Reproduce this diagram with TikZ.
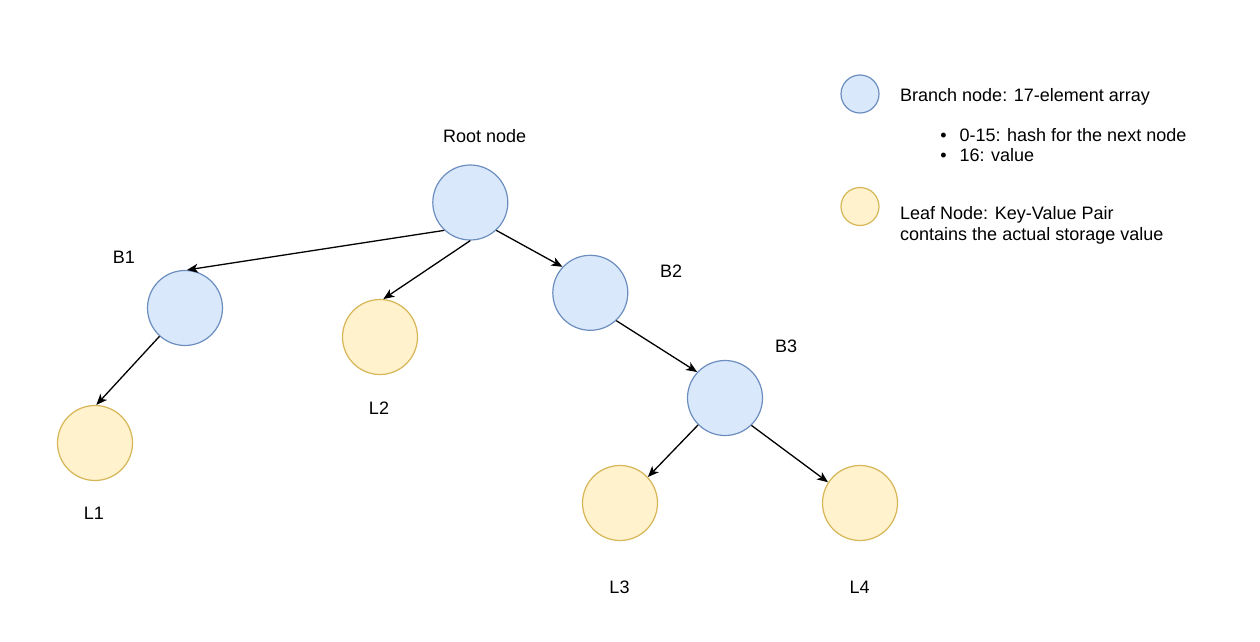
\documentclass[tikz,border=0pt]{standalone}
\usepackage{fontspec}
\setmainfont{Liberation Sans}
\usetikzlibrary{arrows.meta}
\definecolor{bfill}{HTML}{DAE8FC}
\definecolor{bdraw}{HTML}{6C8EBF}
\definecolor{lfill}{HTML}{FFF2CC}
\definecolor{ldraw}{HTML}{D6B656}
\tikzset{
  branch/.style={circle, minimum size=75pt, inner sep=0pt, fill=bfill, draw=bdraw, line width=1.2pt},
  leaf/.style={circle, minimum size=75pt, inner sep=0pt, fill=lfill, draw=ldraw, line width=1.2pt},
  smallbranch/.style={branch, minimum size=38pt},
  smallleaf/.style={leaf, minimum size=38pt},
  lbl/.style={anchor=base, inner sep=0pt, font=\fontsize{18}{21.6}\selectfont},
  ltxt/.style={anchor=base west, inner sep=0pt, font=\fontsize{18}{21.6}\selectfont},
  conn/.style={line width=1.3pt, -{Stealth[length=11pt, width=9pt, inset=3pt]}}
}
\begin{document}
\begin{tikzpicture}[x=1pt, y=-1pt]
\path[use as bounding box, fill=white] (0,0) rectangle (1260,642);

% tree nodes
\node[branch] (root) at (470.3,202.5) {};
\node[branch] (b1) at (185,308) {};
\node[leaf] (l2) at (380,337) {};
\node[branch] (b2) at (590.3,292.8) {};
\node[branch] (b3) at (725,398) {};
\node[leaf] (l1) at (95,443) {};
\node[leaf] (l3) at (620,503) {};
\node[leaf] (l4) at (860,503) {};

% labels
\node[lbl] (troot) at (484.7,142.7) {Root node};
\node[lbl] (tb1) at (124,263.3) {B1};
\node[lbl] (tb2) at (671,277.7) {B2};
\node[lbl] (tb3) at (786,352.7) {B3};
\node[lbl] (tl2) at (379,414) {L2};
\node[lbl] (tl1) at (94,519) {L1};
\node[lbl] (tl3) at (619.5,593.3) {L3};
\node[lbl] (tl4) at (859.5,593.3) {L4};

% connectors
\draw[conn] (root.227) -- (b1.87);
\draw[conn] (root.270) -- (l2.85);
\draw[conn] (root.313) -- (b2.137);
\draw[conn] (b1.228) -- (l1.88);
\draw[conn] (b2.313) -- (b3.137);
\draw[conn] (b3.225) -- (l3.43);
\draw[conn] (b3.314) -- (l4.147);

% legend
\node[smallbranch] (lgb) at (860,94) {};
\node[smallleaf] (lgl) at (860,206.5) {};
\node[ltxt] (lg1) at (900,101.7) {Branch node: 17-element array};
\node[lbl] (bul1) at (943.5,141) {•};
\node[ltxt] (lg2) at (959.3,141) {0-15: hash for the next node};
\node[lbl] (bul2) at (943.5,161.7) {•};
\node[ltxt] (lg3) at (959.3,161.7) {16: value};
\node[ltxt] (lg4) at (900,219) {Leaf Node: Key-Value Pair};
\node[ltxt] (lg5) at (900,240) {contains the actual storage value};
\end{tikzpicture}
\end{document}
